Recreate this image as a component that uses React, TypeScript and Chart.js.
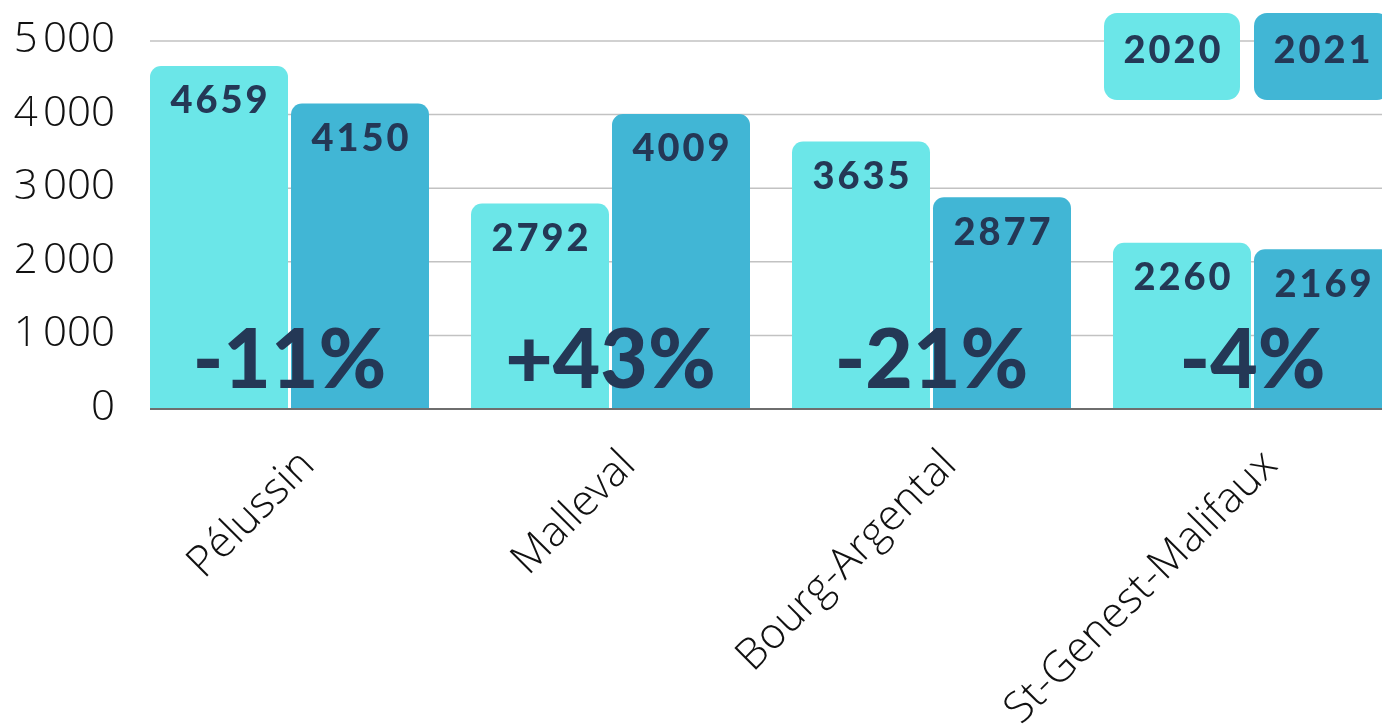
import React, { useEffect, useRef } from "react";
import { Chart, registerables } from "chart.js";
Chart.register(...registerables);

const categories = ["Pélussin", "Malleval", "Bourg-Argental", "St-Genest-Malifaux"];
const series2020 = [4659, 2792, 3635, 2260];
const series2021 = [4150, 4009, 2877, 2169];
const changeLabels = ["-11%", "+43%", "-21%", "-4%"];
const seriesNames = ["2020", "2021"];
const yTickValues = [0, 1000, 2000, 3000, 4000, 5000];
const yTickLabels = ["0", "1\u202F000", "2\u202F000", "3\u202F000", "4\u202F000", "5\u202F000"];

const COLORS = ["#6be6e8", "#41b6d5"];
const NAVY = "#243856";
const BOLD = '"Lato", "DejaVu Sans", sans-serif';
const LIGHT = '"Open Sans Light", "Open Sans", sans-serif';

const overlay = {
  id: "overlay",
  beforeDatasetsDraw(chart: any) {
    const { ctx, chartArea, scales } = chart;
    const y = scales.y;
    const first = chart.getDatasetMeta(0).data[0];
    const left = first.x - first.width / 2;
    ctx.save();
    ctx.strokeStyle = "#c2c2c2";
    ctx.lineWidth = 1.5;
    yTickValues.forEach((v) => {
      if (v === 0) return;
      const py = y.getPixelForValue(v);
      ctx.beginPath();
      ctx.moveTo(left, py);
      ctx.lineTo(chartArea.right, py);
      ctx.stroke();
    });
    ctx.restore();
  },
  afterDatasetsDraw(chart: any) {
    const { ctx, chartArea, scales } = chart;
    const y = scales.y;
    const x = scales.x;
    const first = chart.getDatasetMeta(0).data[0];
    const left = first.x - first.width / 2;
    const y0 = y.getPixelForValue(0);
    ctx.save();
    ctx.strokeStyle = "#6e6e6e";
    ctx.lineWidth = 2;
    ctx.beginPath();
    ctx.moveTo(left, y0);
    ctx.lineTo(chartArea.right, y0);
    ctx.stroke();

    ctx.fillStyle = NAVY;
    ctx.textAlign = "center";
    ctx.textBaseline = "middle";
    ctx.font = `900 38px ${BOLD}`;
    try { (ctx as any).letterSpacing = "3px"; } catch (e) {}
    chart.data.datasets.forEach((ds: any, di: number) => {
      const meta = chart.getDatasetMeta(di);
      meta.data.forEach((bar: any, i: number) => {
        ctx.fillText(String(ds.data[i]), bar.x + 1.5, bar.y + 35);
      });
    });

    ctx.font = `900 82px ${BOLD}`;
    try { (ctx as any).letterSpacing = "0px"; } catch (e) {}
    ctx.textBaseline = "alphabetic";
    changeLabels.forEach((t, i) => {
      ctx.fillText(t, x.getPixelForValue(i), y0 - 21);
    });

    const bw = 136, bh = 87, gap = 14, top = 13;
    const right = chartArea.right - 23;
    ctx.font = `900 38px ${BOLD}`;
    try { (ctx as any).letterSpacing = "3px"; } catch (e) {}
    ctx.textBaseline = "middle";
    seriesNames.forEach((name, i) => {
      const bx = right - (seriesNames.length - i) * bw - (seriesNames.length - 1 - i) * gap;
      ctx.fillStyle = COLORS[i];
      ctx.beginPath();
      (ctx as any).roundRect(bx, top, bw, bh, 13);
      ctx.fill();
      ctx.fillStyle = NAVY;
      ctx.fillText(name, bx + bw / 2 + 1.5, top + 38);
    });
    ctx.restore();
  },
};

export default function App() {
  const ref = useRef<HTMLCanvasElement>(null);
  useEffect(() => {
    document.body.style.margin = "0";
    document.body.style.overflow = "hidden";
    let chart: Chart | null = null;
    let cancelled = false;
    const build = () => {
      if (cancelled || !ref.current) return;
      chart = new Chart(ref.current, {
        type: "bar",
        data: {
          labels: categories,
          datasets: seriesNames.map((name, i) => ({
            label: name,
            data: i === 0 ? series2020 : series2021,
            backgroundColor: COLORS[i],
            borderRadius: { topLeft: 11, topRight: 11, bottomLeft: 0, bottomRight: 0 },
            borderSkipped: "bottom" as any,
            categoryPercentage: 282 / 321,
            barPercentage: 138 / 141,
          })),
        },
        options: {
          animation: false,
          responsive: false,
          maintainAspectRatio: false,
          layout: { padding: { top: 41, left: 0, right: 0, bottom: 0 } },
          plugins: { legend: { display: false }, tooltip: { enabled: false } },
          scales: {
            x: {
              grid: { display: false },
              border: { display: false },
              ticks: {
                autoSkip: false,
                maxRotation: 45,
                minRotation: 45,
                color: "#111",
                padding: 24,
                labelOffset: 19,
                font: { family: LIGHT, weight: 300 as any, size: 43 },
              },
              afterFit: (s: any) => { s.height = 318; },
            },
            y: {
              min: 0,
              max: 5000,
              grid: { display: false, drawTicks: false },
              border: { display: false },
              ticks: {
                stepSize: 1000,
                padding: 14,
                color: "#111",
                font: { family: LIGHT, weight: 300 as any, size: 42 },
                callback: (v: any) => {
                  const i = yTickValues.indexOf(Number(v));
                  return i >= 0 ? yTickLabels[i] : "";
                },
              },
              afterFit: (s: any) => { s.width = 129; },
            },
          },
        },
        plugins: [overlay],
      });
    };
    const fonts = (document as any).fonts;
    if (fonts && fonts.load) {
      Promise.all([
        fonts.load('300 42px "Open Sans Light"'),
        fonts.load('300 42px "Open Sans"'),
        fonts.load('900 38px "Lato"'),
      ]).then(build, build);
    } else build();
    return () => {
      cancelled = true;
      if (chart) chart.destroy();
    };
  }, []);
  return (
    <div style={{ width: 1382, height: 727, overflow: "hidden", position: "relative" }}>
      <canvas ref={ref} width={1413} height={727} style={{ display: "block" }} />
    </div>
  );
}
